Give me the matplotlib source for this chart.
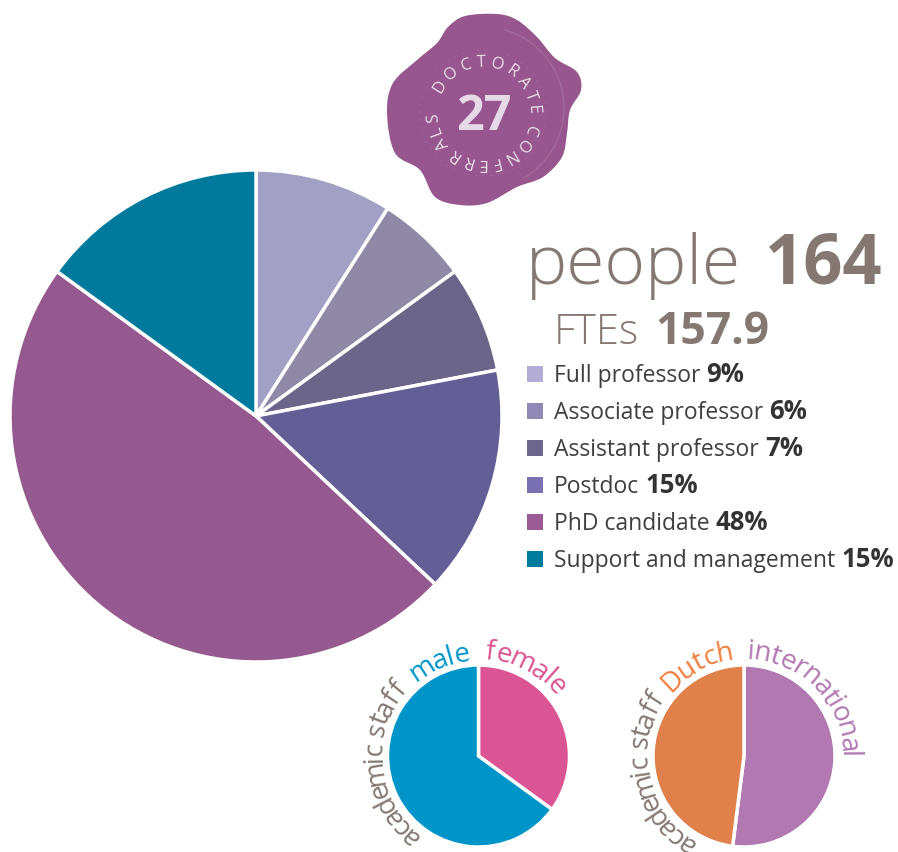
import numpy as np
import matplotlib
matplotlib.use('Agg')
import matplotlib.pyplot as plt
from matplotlib.font_manager import FontProperties
from matplotlib.patches import PathPatch, Rectangle, Circle, Arc
from matplotlib.path import Path
from matplotlib.textpath import TextPath

W, H = 898, 852
FONT = 'Open Sans'

staff_labels = ['Full professor', 'Associate professor', 'Assistant professor',
                'Postdoc', 'PhD candidate', 'Support and management']
staff_pct = [9, 6, 7, 15, 48, 15]
pie_colors = ['#a3a0c6', '#8f88a6', '#6a6589', '#645e97', '#96598f', '#007a9c']
legend_colors = ['#b3add6', '#9089b8', '#6d678d', '#7a71b3', '#9a5a93', '#007c9c']

gender_values = [35, 65]
gender_colors = ['#db5494', '#0095c9']
nationality_values = [52, 48]
nationality_colors = ['#b278b2', '#e0804a']

people = '164'
ftes = '157.9'
conferrals = '27'

# outline of the wax seal, pixels
seal_x = [465, 497, 517, 537, 555, 577, 581, 570, 567, 562, 543, 517, 487, 460, 435, 420, 395, 387, 393, 417, 437, 448]
seal_y = [16, 14, 20, 37, 58, 72, 90, 110, 133, 157, 177, 187, 203, 205, 197, 170, 153, 113, 83, 60, 43, 27]

fig = plt.figure(figsize=(W / 100, H / 100), dpi=100)
ax = fig.add_axes([0, 0, 1, 1])
ax.set_xlim(0, W)
ax.set_ylim(0, H)
ax.axis('off')


def draw_pie(values, colors, cx, cy, r, lw):
    ax.pie(values, colors=colors, center=(cx, H - cy), radius=r, startangle=90,
           counterclock=False, wedgeprops={'edgecolor': 'white', 'linewidth': lw})


def arc_text(s, cx, cy, r, start, end, color, size, weight='normal'):
    # angles in degrees, clockwise from the top of the circle
    fp = FontProperties(family=FONT, size=size, weight=weight)
    widths = []
    for ch in s:
        if ch == ' ':
            widths.append(size * 0.3)
        else:
            widths.append(TextPath((0, 0), ch, prop=fp).get_extents().x1 + size * 0.06)
    widths = np.array(widths)
    edges = np.concatenate([[0], np.cumsum(widths)])
    mids = (edges[:-1] + edges[1:]) / 2 / edges[-1]
    for ch, m in zip(s, mids):
        if ch == ' ':
            continue
        a = np.radians(start + (end - start) * m)
        ax.text(cx + r * np.sin(a), H - cy + r * np.cos(a), ch, color=color,
                fontproperties=fp, rotation=-np.degrees(a), rotation_mode='anchor',
                ha='center', va='baseline')


def legend_row(x, y, normal, bold):
    t = ax.text(x, H - y, normal, family=FONT, size=16.5, color='#3f3f3f', va='baseline')
    box = t.get_window_extent(fig.canvas.get_renderer())
    ax.text(box.x1 + 6, H - y, bold, family=FONT, size=18.5, color='#333333',
            weight='bold', va='baseline')


# seal
pts = np.column_stack([seal_x, H - np.array(seal_y)]).astype(float)
prev_p = np.roll(pts, 1, axis=0)
next_p = np.roll(pts, -1, axis=0)
next2_p = np.roll(pts, -2, axis=0)
verts = [pts[0]]
codes = [Path.MOVETO]
for p0, p1, p2, p3 in zip(prev_p, pts, next_p, next2_p):
    verts += [p1 + (p2 - p0) / 6, p2 - (p3 - p1) / 6, p2]
    codes += [Path.CURVE4, Path.CURVE4, Path.CURVE4]
ax.add_patch(PathPatch(Path(verts, codes), facecolor='#98568f', edgecolor='none'))
ax.add_patch(Arc((483, H - 108), 162, 162, theta1=-60, theta2=75, edgecolor='#a06a99', linewidth=1.0))
ax.add_patch(Circle((483, H - 113), 63, facecolor='none', edgecolor='#b184ab',
                    linewidth=0.8, linestyle=(0, (1, 6)), alpha=0.5))
arc_text('DOCTORATE CONFERRALS', 483, 113, 46, -68, 272, '#eadfeb', 12)
ax.text(484, H - 130, conferrals, family=FONT, size=35, weight='bold', color='#e6d9e8',
        ha='center', va='baseline')

# pies
draw_pie(staff_pct, pie_colors, 256, 416, 246, 2.5)
draw_pie(gender_values, gender_colors, 478.5, 756, 91, 2.5)
draw_pie(nationality_values, nationality_colors, 744, 756, 91, 2.5)
ax.set_xlim(0, W)
ax.set_ylim(0, H)
ax.set_aspect('auto')

# curved labels
grey = '#857872'
arc_text('academic staff', 478.5, 756, 97, -143, -47, grey, 20)
arc_text('male', 478.5, 756, 96, -40, -5, '#0095c9', 20)
arc_text('female', 478.5, 756, 97, 3, 52, '#db5494', 20)
arc_text('academic staff', 744, 756, 97, -150, -54, grey, 20)
arc_text('Dutch', 744, 756, 97, -49, -6, '#f08040', 20)
arc_text('international', 744, 756, 97, 2, 91, '#b278b2', 20)

# headline
ax.text(526, H - 284, 'people', family=FONT, size=50, color=grey, weight='light', va='baseline')
ax.text(765, H - 284, people, family=FONT, size=49.5, color=grey, weight='bold', va='baseline')
ax.text(554, H - 344, 'FTEs', family=FONT, size=30, color=grey, weight='light', va='baseline')
ax.text(655, H - 344, ftes, family=FONT, size=32, color=grey, weight='bold', va='baseline')

# legend
for i, (lab, pct, col) in enumerate(zip(staff_labels, staff_pct, legend_colors)):
    y = 374 + i * 37
    ax.add_patch(Rectangle((527, H - y - 8), 16, 16, facecolor=col, edgecolor='none'))
    legend_row(554, y + 8, lab, f'{pct}%')

fig.savefig('out.png', dpi=100)
